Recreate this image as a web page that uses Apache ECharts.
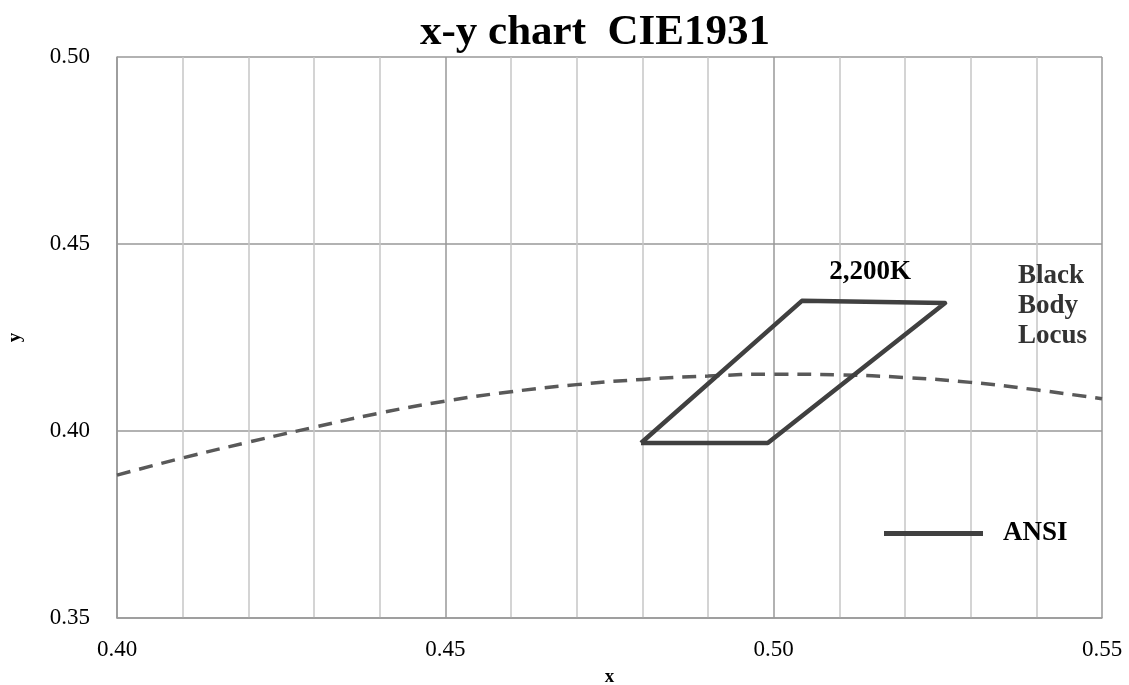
<!DOCTYPE html>
<html>
<head>
<meta charset="utf-8">
<script src="https://cdn.jsdelivr.net/npm/echarts@6/dist/echarts.min.js"></script>
<style>html,body{margin:0;padding:0;background:#fff;}#c{width:1129px;height:685px;}</style>
</head>
<body>
<div id="c"></div>
<script>
const locusX = [0.40, 0.41, 0.42, 0.43, 0.44, 0.45, 0.46, 0.47, 0.48, 0.49, 0.50, 0.51, 0.52, 0.53, 0.54, 0.55];
const locusY = [0.3882, 0.3928, 0.3970, 0.4010, 0.4048, 0.4080, 0.4105, 0.4124, 0.4138, 0.4147, 0.4152, 0.4150, 0.4143, 0.4130, 0.4110, 0.4086];
const ansiX = [0.4798, 0.4991, 0.5261, 0.5043, 0.4798];
const ansiY = [0.3968, 0.3968, 0.4342, 0.4348, 0.3968];
const cctLabel = { text: '2,200K', x: 0.5147, y: 0.4425 };
const locusLabel = { text: 'Black\nBody\nLocus', x: 0.5372, y: 0.4455 };

const serif = '"Liberation Serif","Times New Roman",serif';
const chart = echarts.init(document.getElementById('c'));
chart.setOption({
  animation: false,
  title: {
    text: 'x-y chart  CIE1931',
    left: 590, top: 6, textAlign: 'center',
    textStyle: { fontFamily: serif, fontWeight: 'bold', fontSize: 43, color: '#000' }
  },
  legend: {
    data: [{ name: 'ANSI', icon: 'rect' }],
    left: 879, top: 515,
    itemWidth: 99, itemHeight: 5,
    textStyle: { fontFamily: serif, fontWeight: 'bold', fontSize: 27, color: '#000', padding: [0, 0, 0, 15] }
  },
  grid: { left: 117, right: 27, top: 57, bottom: 67, outerBoundsMode: 'none', containLabel: false },
  xAxis: {
    type: 'value', min: 0.40, max: 0.55, interval: 0.05,
    name: 'x', nameLocation: 'middle', nameGap: 50,
    nameTextStyle: { fontFamily: serif, fontWeight: 'bold', fontSize: 19, color: '#000' },
    axisLine: { show: true, lineStyle: { color: '#999', width: 1.5 } },
    axisTick: { show: false },
    axisLabel: { fontFamily: serif, fontSize: 23, color: '#000', margin: 20, formatter: v => v.toFixed(2) },
    splitLine: { show: true, lineStyle: { color: '#999', width: 1.5 } },
    minorTick: { show: false, splitNumber: 5 },
    minorSplitLine: { show: true, lineStyle: { color: '#c6c6c6', width: 1.5 } }
  },
  yAxis: {
    type: 'value', min: 0.35, max: 0.50, interval: 0.05,
    name: 'y', nameLocation: 'middle', nameGap: 92, nameRotate: 90,
    nameTextStyle: { fontFamily: serif, fontWeight: 'bold', fontSize: 19, color: '#000' },
    axisLine: { show: true, lineStyle: { color: '#999', width: 1.5 } },
    axisTick: { show: false },
    axisLabel: { fontFamily: serif, fontSize: 23, color: '#000', margin: 27, formatter: v => v.toFixed(2) },
    splitLine: { show: true, lineStyle: { color: '#999', width: 1.5 } }
  },
  series: [
    {
      name: 'Black Body Locus', type: 'line', smooth: 0.5, symbol: 'none',
      data: locusX.map((x, i) => [x, locusY[i]]),
      lineStyle: { color: '#595959', width: 3.5, type: [14, 9] },
      itemStyle: { color: '#595959' },
      z: 2
    },
    {
      name: 'ANSI', type: 'line', symbol: 'none',
      data: ansiX.map((x, i) => [x, ansiY[i]]),
      lineStyle: { color: '#404040', width: 4.5, join: 'round' },
      itemStyle: { color: '#404040' },
      z: 3
    },
    {
      name: 'labels', type: 'scatter', symbolSize: 0, silent: true,
      itemStyle: { opacity: 1 },
      data: [
        { value: [cctLabel.x, cctLabel.y], label: { show: true, opacity: 1, formatter: cctLabel.text, position: [0, 0], align: 'center', verticalAlign: 'middle', fontFamily: serif, fontWeight: 'bold', fontSize: 27, color: '#000' } },
        { value: [locusLabel.x, locusLabel.y], label: { show: true, opacity: 1, formatter: locusLabel.text, position: [0, 0], align: 'left', verticalAlign: 'top', lineHeight: 30, fontFamily: serif, fontWeight: 'bold', fontSize: 27, color: '#333' } }
      ],
      z: 4
    }
  ]
});
</script>
</body>
</html>
